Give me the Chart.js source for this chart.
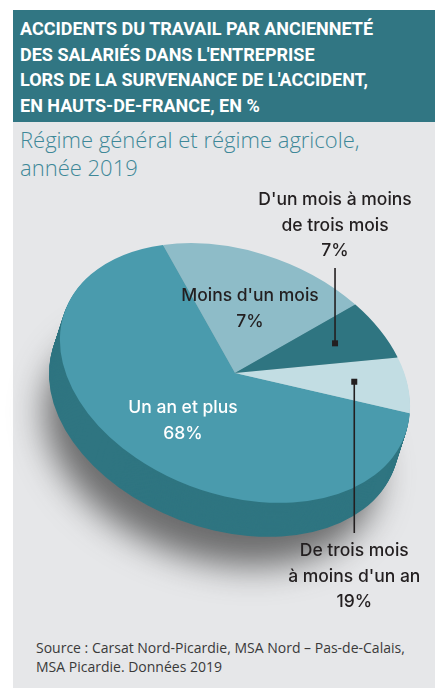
<!DOCTYPE html>
<html lang="fr">
<head>
  <meta charset="UTF-8" />
  <title>Accidents du travail par ancienneté</title>
  <script src="https://cdn.jsdelivr.net/npm/chart.js"></script>
  <style>
    body {
      margin: 0;
      width: 435px;
      height: 688px;
      background: #ffffff;
      overflow: hidden;
      position: relative;
      font-family: 'Roboto', sans-serif;
    }
    .panel {
      position: absolute;
      left: 13px; top: 10px; right: 0; bottom: 0;
      background: #e6e7e9;
    }
    .header {
      position: absolute;
      left: 13px; top: 10px; width: 422px; height: 112px;
      background: #317683;
    }
    .header div {
      position: absolute;
      left: 7px; top: 6px;
      color: #ffffff;
      font-weight: 700;
      font-size: 18px;
      line-height: 25.5px;
      white-space: nowrap;
    }
    .subtitle {
      position: absolute;
      left: 20px; top: 125px;
      color: #3e8898;
      font-family: 'Open Sans', sans-serif;
      font-weight: 300;
      font-size: 22px;
      line-height: 28px;
      white-space: nowrap;
    }
    .source {
      position: absolute;
      left: 36px; top: 638px;
      color: #3a3a3a;
      font-family: 'Open Sans', sans-serif;
      font-size: 14px;
      line-height: 19px;
      white-space: nowrap;
    }
    canvas {
      position: absolute;
      left: 0; top: 0;
    }
  </style>
</head>
<body>
  <div class="panel"></div>
  <div class="header">
    <div>ACCIDENTS DU TRAVAIL PAR ANCIENNETÉ<br>DES SALARIÉS DANS L'ENTREPRISE<br>LORS DE LA SURVENANCE DE L'ACCIDENT,<br>EN HAUTS-DE-FRANCE, EN %</div>
  </div>
  <div class="subtitle">Régime général et régime agricole,<br>année 2019</div>
  <div class="source">Source : Carsat Nord-Picardie, MSA Nord – Pas-de-Calais,<br>MSA Picardie. Données 2019</div>

  <canvas id="pieChart" width="435" height="688"></canvas>

  <script>
    // slices in drawing order (clockwise, starting at the right)
    const categories = ['Un an et plus', "Moins d'un mois", "D'un mois à moins de trois mois", "De trois mois à moins d'un an"];
    // share of each slice as drawn in the picture
    const sliceValues = [68, 19, 7, 7];
    // percentages printed next to each slice
    const printedPercents = [68, 7, 7, 19];
    // label lines as printed
    const labelLines = [
      ['Un an et plus'],
      ["Moins d'un mois"],
      ["D'un mois à moins", 'de trois mois'],
      ['De trois mois', "à moins d'un an"]
    ];

    const topColors = ['#4a9bad', '#8ebcc8', '#2f7581', '#c2dde3'];
    const sideColors = ['#2f7581', '#6d9aa5', '#25606a', '#9cbcc3'];

    const tilt = 20 * Math.PI / 180;   // rotation of the ellipse
    const squash = 0.671;              // vertical flattening
    const depth = { x: -11, y: 34 };   // thickness of the disc

    function applyTilt(ctx, cx, cy) {
      ctx.translate(cx, cy);
      ctx.rotate(tilt);
      ctx.scale(1, squash);
      ctx.translate(-cx, -cy);
    }

    function toScreen(cx, cy, r, ang) {
      const px = r * Math.cos(ang);
      const py = squash * r * Math.sin(ang);
      return {
        x: cx + px * Math.cos(tilt) - py * Math.sin(tilt),
        y: cy + px * Math.sin(tilt) + py * Math.cos(tilt)
      };
    }

    function slicePath(ctx, a) {
      ctx.beginPath();
      ctx.moveTo(a.x, a.y);
      ctx.arc(a.x, a.y, a.outerRadius, a.startAngle, a.endAngle);
      ctx.closePath();
    }

    const pie3d = {
      id: 'pie3d',
      beforeDatasetsDraw(chart) {
        const ctx = chart.ctx;
        const arcs = chart.getDatasetMeta(0).data;
        const cx = arcs[0].x, cy = arcs[0].y, R = arcs[0].outerRadius;

        // soft shadow
        ctx.save();
        ctx.filter = 'blur(17px)';
        ctx.translate(-24, 70);
        applyTilt(ctx, cx, cy);
        ctx.beginPath();
        ctx.arc(cx, cy, R * 0.95, 0, Math.PI * 2);
        ctx.fillStyle = 'rgba(55, 55, 55, 0.7)';
        ctx.fill();
        ctx.restore();

        // side of the disc
        const steps = 36;
        for (let i = steps; i >= 1; i--) {
          ctx.save();
          ctx.translate(depth.x * i / steps, depth.y * i / steps);
          applyTilt(ctx, cx, cy);
          arcs.forEach((a, j) => {
            slicePath(ctx, a);
            ctx.fillStyle = sideColors[j];
            ctx.fill();
          });
          ctx.restore();
        }

        // top face
        ctx.save();
        applyTilt(ctx, cx, cy);
        arcs.forEach(a => a.draw(ctx));
        ctx.restore();
        return false;
      },
      afterDraw(chart) {
        const ctx = chart.ctx;
        const arcs = chart.getDatasetMeta(0).data;
        const cx = arcs[0].x, cy = arcs[0].y, R = arcs[0].outerRadius;

        ctx.save();
        ctx.textAlign = 'center';
        ctx.textBaseline = 'middle';
        ctx.font = '500 17.5px Inter';

        function drawLabel(i, x, y, color) {
          const lines = labelLines[i].concat([printedPercents[i] + '%']);
          ctx.fillStyle = color;
          lines.forEach((t, k) => ctx.fillText(t, x, y + k * 25.5));
        }

        // labels inside the disc
        drawLabel(0, 183, 408, '#ffffff');
        drawLabel(1, 250, 296, '#231f20');

        // labels with leader lines
        const leaders = [
          { i: 2, textY: 200, lineTo: 268 },
          { i: 3, textY: 551, lineTo: 533 }
        ];
        leaders.forEach(l => {
          const a = arcs[l.i];
          const mid = (a.startAngle + a.endAngle) / 2;
          const p = toScreen(cx, cy, R * 0.69, mid);
          ctx.strokeStyle = '#231f20';
          ctx.lineWidth = 1.6;
          ctx.beginPath();
          ctx.moveTo(p.x, p.y);
          ctx.lineTo(p.x, l.lineTo);
          ctx.stroke();
          ctx.fillStyle = '#231f20';
          ctx.fillRect(p.x - 3, p.y - 3, 6, 6);
          drawLabel(l.i, p.x, l.textY, '#231f20');
        });
        ctx.restore();
      }
    };

    new Chart(document.getElementById('pieChart'), {
      type: 'pie',
      data: {
        labels: categories,
        datasets: [{
          data: sliceValues,
          backgroundColor: topColors,
          borderWidth: 0
        }]
      },
      options: {
        responsive: false,
        animation: false,
        rotation: 79.6,
        layout: { padding: { left: 54, right: 19, top: 192, bottom: 134 } },
        plugins: {
          legend: { display: false },
          tooltip: { enabled: false }
        }
      },
      plugins: [pie3d]
    });
  </script>
</body>
</html>
